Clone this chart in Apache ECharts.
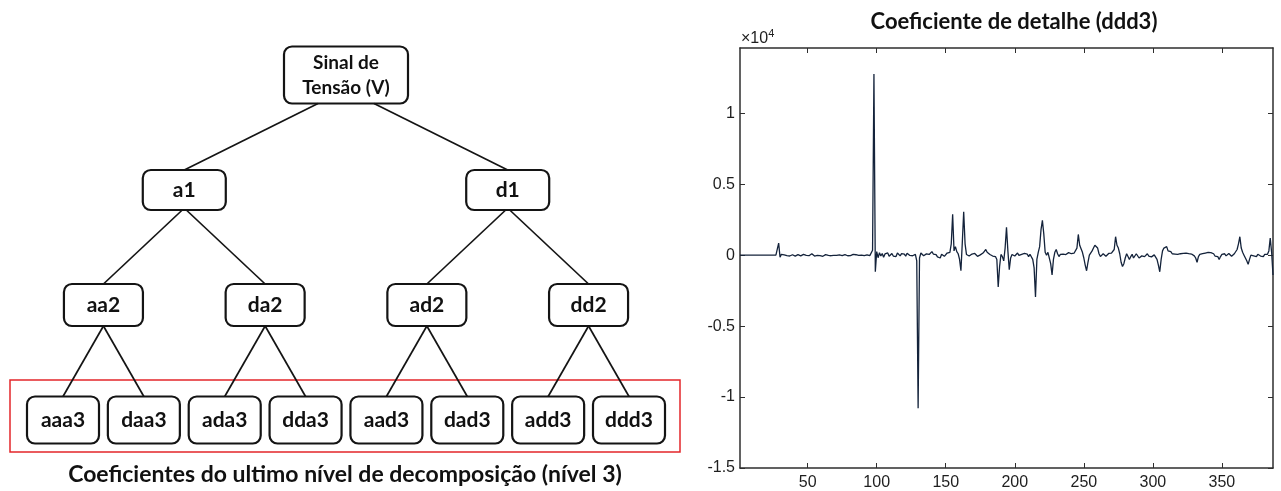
<!DOCTYPE html>
<html>
<head>
<meta charset="utf-8">
<script src="https://cdn.jsdelivr.net/npm/echarts@6/dist/echarts.min.js"></script>
<style>
  html, body { margin: 0; padding: 0; background: #ffffff; }
  #chart { width: 1281px; height: 491px; }
</style>
</head>
<body>
<div id="chart"></div>
<script>
// Wavelet packet tree labels, one list per decomposition level
const rootLabel = 'Sinal de\nTensão (V)';
const level1 = ['a1', 'd1'];
const level2 = ['aa2', 'da2', 'ad2', 'dd2'];
const level3 = ['aaa3', 'daa3', 'ada3', 'dda3', 'aad3', 'dad3', 'add3', 'ddd3'];

// Detail coefficients ddd3, one value per sample (samples 1..387)
const ddd3 = [
  0, 0, 0, 0, 0, 0, 0, 0, 0, 0,
  0, 0, 0, 0, 0, 0, 0, 0, 0, 0,
  0, 0, 0, 0, 0, 0, 0, 40, 850, -150,
  60, -40, 20, -80, -30, 10, -60, -20, 30, -10,
  -70, -20, 40, 10, -50, 20, 60, -30, -10, 80,
  -40, 30, 100, -20, -60, 40, -10, 90, -30, 20,
  -80, -180, 40, 60, -20, 10, -40, 70, -10, 30,
  -20, -60, 20, 50, -30, -10, 40, 90, -40, 10,
  -30, 20, 60, -50, 30, 80, -20, 40, 10, 100,
  -40, 60, 20, 120, -30, 80, 350, 12770, -1170, 250,
  -180, 170, -60, 120, -150, 90, -40, 160, -80, 30,
  120, -60, 70, -100, 150, 40, -50, 110, -30, 80,
  -70, 140, 20, -20, 60, -40, 90, 50, -400, -10780,
  -200, 150, 60, -40, 20, 90, -30, 50, 120, 250,
  80, -60, 40, -120, -30, -200, 60, 20, -80, 40,
  150, 100, 200, 800, 2880, 300, 600, 250, 100, -300,
  -1100, 900, 3050, 800, 50, 100, -60, 30, 80, -40,
  120, 40, -80, 60, 20, -30, 150, 250, 400, 200,
  180, 50, 120, -60, 30, -100, -300, -2240, -800, 50,
  -100, -400, 500, 1960, 300, -1030, -200, 50, 100, -60,
  80, 150, -20, 100, 60, -40, 120, 180, 80, -100,
  60, 100, -300, -900, -2950, -300, 200, 600, 1800, 2450,
  1500, 200, 0, 200, 100, -600, -1400, -300, 200, 400,
  100, -100, 60, 150, 80, -50, 40, 120, 180, 200,
  100, 50, 150, 250, 500, 1460, 700, 600, 200, -200,
  -700, -1100, -500, 0, 100, 300, 500, 700, 840, 500,
  100, -100, 0, 100, 60, -80, 40, 120, 80, 150,
  200, 400, 1300, 700, 500, 100, -500, -800, -600, -200,
  100, -100, -300, -100, 60, -200, -80, 100, -40, -200,
  -150, -50, 60, -100, 0, 100, -60, 30, -120, -40,
  20, -100, -300, -700, -1170, -300, 300, 500, 400, 600,
  300, 200, 250, 100, 150, 80, 120, 50, 150, 100,
  60, 130, 80, 150, 40, 110, -20, 80, 30, -50,
  -200, -500, -100, 50, -30, 100, 60, 150, 80, 200,
  120, 180, 50, 100, -60, 80, -100, -300, -100, 60,
  20, 100, -50, 60, 120, 80, -80, 40, 100, 200,
  400, 800, 1300, 500, 200, 0, -200, -400, -650, -300,
  0, 100, -50, 80, -100, 60, 120, -60, 30, -100,
  50, 120, 60, 300, 1200, 200, -1400
];

// Tick marks of the coefficient plot
const xTickValues = [50, 100, 150, 200, 250, 300, 350];
const yTickValues = [-15000, -10000, -5000, 0, 5000, 10000];
const yScale = 10000;

// Build the tree: leaves sit on consecutive slots, each parent centred over its two children
const levels = [[rootLabel], level1, level2, level3];
const slots = [];
slots[3] = level3.map((_, i) => i);
for (let k = 2; k >= 0; k--) {
  slots[k] = levels[k].map((_, i) => (slots[k + 1][2 * i] + slots[k + 1][2 * i + 1]) / 2);
}
const treeNodes = [];
levels.forEach((names, k) => {
  names.forEach((name, i) => {
    const hasParent = k > 0;
    const pSlot = hasParent ? slots[k - 1][Math.floor(i / 2)] : -1;
    treeNodes.push({
      name: name,
      value: [slots[k][i], k, pSlot, hasParent ? k - 1 : -1, i % 2]
    });
  });
});

const boxSize = [[124, 57], [83, 40], [79, 42], [72, 47]];
const edgeSpread = [28, 2, 0];
const inkColor = '#141414';

function renderNode(params, api) {
  const lvl = api.value(1);
  const c = api.coord([api.value(0), lvl]);
  const w = boxSize[lvl][0], h = boxSize[lvl][1];
  const parts = [];
  if (lvl > 0) {
    const pl = api.value(3);
    const p = api.coord([api.value(2), pl]);
    const dir = api.value(4) ? 1 : -1;
    parts.push({
      type: 'line',
      shape: { x1: p[0] + dir * edgeSpread[pl], y1: p[1] + boxSize[pl][1] / 2, x2: c[0], y2: c[1] - h / 2 },
      style: { stroke: inkColor, lineWidth: 1.7 }
    });
  }
  parts.push({
    type: 'rect',
    shape: { x: c[0] - w / 2, y: c[1] - h / 2, width: w, height: h, r: 8 },
    style: { fill: '#ffffff', stroke: inkColor, lineWidth: 2.2 }
  });
  parts.push({
    type: 'text',
    x: c[0],
    y: c[1],
    style: {
      text: treeNodes[params.dataIndex].name,
      font: lvl === 0 ? 'bold 19px Lato' : 'bold 21px Lato',
      lineHeight: 25,
      fill: '#111111',
      align: 'center',
      verticalAlign: 'middle'
    }
  });
  return { type: 'group', children: parts };
}

const axisInk = '#2e2e2e';
const labelFont = 'Liberation Sans';
const labelColor = '#1e1e1e';

const chart = echarts.init(document.getElementById('chart'), null, { renderer: 'canvas' });
chart.setOption({
  animation: false,
  backgroundColor: '#ffffff',
  title: [
    {
      text: 'Coeficiente de detalhe (ddd3)',
      left: 1009, top: 6, textAlign: 'center',
      textStyle: { fontFamily: 'Lato', fontWeight: 'bold', fontSize: 22, color: '#111111' }
    },
    {
      text: 'Coeficientes do ultimo nível de decomposição (nível 3)',
      left: 340, top: 458, textAlign: 'center',
      textStyle: { fontFamily: 'Lato', fontWeight: 'bold', fontSize: 23, color: '#111111' }
    }
  ],
  grid: [
    { left: 740, right: 8, top: 48, bottom: 23 },
    { left: 63, right: 652, top: 75, bottom: 71 }
  ],
  xAxis: [
    {
      gridIndex: 0, type: 'value', min: 1, max: 387, position: 'bottom',
      axisLine: { show: true, onZero: false, lineStyle: { color: axisInk, width: 1.5 } },
      axisTick: { show: true, inside: true, length: 5, customValues: xTickValues, lineStyle: { color: axisInk } },
      axisLabel: { show: true, customValues: xTickValues, margin: 7, fontFamily: labelFont, fontSize: 16, color: labelColor },
      splitLine: { show: false }
    },
    {
      gridIndex: 1, type: 'value', min: 0, max: 7, show: false
    },
    {
      gridIndex: 0, type: 'value', min: 1, max: 387, position: 'top',
      axisLine: { show: true, onZero: false, lineStyle: { color: axisInk, width: 1.5 } },
      axisTick: { show: true, inside: true, length: 5, customValues: xTickValues, lineStyle: { color: axisInk } },
      axisLabel: { show: false },
      splitLine: { show: false }
    }
  ],
  yAxis: [
    {
      gridIndex: 0, type: 'value', min: -15000, max: 14600, position: 'left',
      axisLine: { show: true, onZero: false, lineStyle: { color: axisInk, width: 1.5 } },
      axisTick: { show: true, inside: true, length: 5, customValues: yTickValues, lineStyle: { color: axisInk } },
      axisLabel: {
        show: true, margin: 5, fontFamily: labelFont, fontSize: 16, color: labelColor,
        customValues: yTickValues,
        formatter: v => String(v / yScale)
      },
      splitLine: { show: false }
    },
    {
      gridIndex: 1, type: 'value', min: 0, max: 3, inverse: true, show: false
    },
    {
      gridIndex: 0, type: 'value', min: -15000, max: 14600, position: 'right',
      axisLine: { show: true, onZero: false, lineStyle: { color: axisInk, width: 1.5 } },
      axisTick: { show: true, inside: true, length: 5, customValues: yTickValues, lineStyle: { color: axisInk } },
      axisLabel: { show: false },
      splitLine: { show: false }
    }
  ],
  graphic: [
    {
      type: 'rect', z: 1,
      shape: { x: 10, y: 380, width: 670, height: 72 },
      style: { fill: 'none', stroke: '#e3262a', lineWidth: 1.5 }
    },
    {
      type: 'text', left: 741, top: 28, z: 5,
      style: {
        text: '{b|×10}{s|4}',
        rich: {
          b: { fontFamily: labelFont, fontSize: 16, fill: labelColor, verticalAlign: 'bottom' },
          s: { fontFamily: labelFont, fontSize: 11, fill: labelColor, verticalAlign: 'top', padding: [0, 0, 8, 0] }
        }
      }
    }
  ],
  series: [
    {
      type: 'line',
      xAxisIndex: 0, yAxisIndex: 0,
      data: ddd3.map((v, i) => [i + 1, v]),
      showSymbol: false,
      lineStyle: { color: '#14233b', width: 1.3 },
      clip: true
    },
    {
      type: 'custom',
      xAxisIndex: 1, yAxisIndex: 1,
      coordinateSystem: 'cartesian2d',
      clip: false,
      renderItem: renderNode,
      data: treeNodes
    }
  ]
});
</script>
</body>
</html>
